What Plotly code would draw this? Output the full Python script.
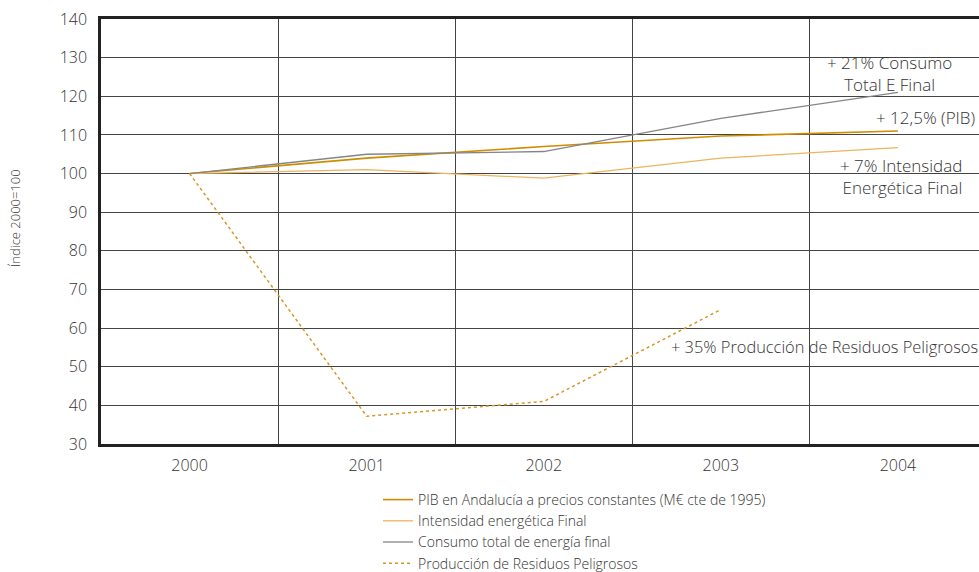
import plotly.graph_objects as go

# Data (index 2000 = 100)
years = ["2000", "2001", "2002", "2003", "2004"]
pib = [100, 104, 107, 109.7, 111]
intensidad = [100, 101, 98.8, 104, 106.7]
consumo = [100, 105, 105.7, 114.3, 121]
residuos_years = ["2000", "2001", "2002", "2003"]
residuos = [100, 37.2, 41, 64.8]

y_ticks = [30, 40, 50, 60, 70, 80, 90, 100, 110, 120, 130, 140]

FONT = "Open Sans"
TXT = "#333333"

# pixel -> paper helpers (plot area: x 101..979, y 19..444)
def px(x):
    return (x - 101) / 878

def py(y):
    return (444 - y) / 425

xi = list(range(len(years)))
xr = list(range(len(residuos_years)))

fig = go.Figure()

fig.add_trace(go.Scatter(
    x=xi, y=pib, mode="lines", name="PIB en Andalucía a precios constantes (M€ cte de 1995)",
    line=dict(color="#D18B00", width=1.6)
))
fig.add_trace(go.Scatter(
    x=xi, y=intensidad, mode="lines", name="Intensidad energética Final",
    line=dict(color="#EBB45E", width=1.3)
))
fig.add_trace(go.Scatter(
    x=xi, y=consumo, mode="lines", name="Consumo total de energía final",
    line=dict(color="#858585", width=1.3)
))
fig.add_trace(go.Scatter(
    x=xr, y=residuos, mode="lines", name="Producción de Residuos Peligrosos",
    line=dict(color="#D9952A", width=1.5, dash="dot")
))

# Text labels next to the series
labels = [
    ("+ 21% Consumo<br>Total E Final", 889, 73, "center", "center", 17),
    ("+ 12,5% (PIB)", 874, 117, "left", "left", 17),
    ("+ 7% Intensidad<br>Energética Final", 964, 176, "right", "right", 17),
    ("+ 35% Producción de Residuos Peligrosos", 669, 346, "left", "left", 16.4),
]
for text, x, y, anchor, align, size in labels:
    fig.add_annotation(
        text=text, x=px(x), y=py(y), xref="paper", yref="paper",
        xanchor=anchor, yanchor="middle", align=align, showarrow=False,
        font=dict(family=FONT, size=size, color=TXT, weight=300)
    )

# Y axis title
fig.add_annotation(
    text="Índice 2000=100", x=px(15), y=py(218), xref="paper", yref="paper",
    xanchor="center", yanchor="middle", textangle=-90, showarrow=False,
    font=dict(family=FONT, size=13, color=TXT, weight=300)
)

fig.update_layout(
    width=979,
    height=572,
    margin=dict(l=101, r=0, t=19, b=128, autoexpand=False),
    plot_bgcolor="white",
    paper_bgcolor="white",
    font=dict(family=FONT, size=14, color=TXT, weight=300),
    showlegend=True,
    legend=dict(
        x=px(378), y=py(579), xanchor="left", yanchor="bottom",
        bgcolor="rgba(0,0,0,0)", font=dict(size=14, color=TXT, weight=300),
        tracegroupgap=0
    ),
    xaxis=dict(
        range=[-0.5, (979 - 190) / 177],
        tickvals=xi, ticktext=years,
        showgrid=False, zeroline=False, automargin=False,
        showline=True, linecolor="#222222", linewidth=2.5, mirror=True,
        ticks="", ticklabelstandoff=5,
        tickfont=dict(size=16, color=TXT, weight=300),
        minor=dict(tickvals=[0.5, 1.5, 2.5, 3.5], showgrid=True,
                   gridcolor="#444444", gridwidth=1, ticks=""),
    ),
    yaxis=dict(
        range=[30, 140],
        tickvals=y_ticks,
        showgrid=True, gridcolor="#444444", gridwidth=1,
        zeroline=False, automargin=False,
        showline=True, linecolor="#222222", linewidth=2.5,
        ticks="", ticklabelstandoff=8, ticklabeloverflow="allow",
        tickfont=dict(size=16, color=TXT, weight=300),
    ),
)

# remove the default page margin so the figure fills the window
fig.write_html(
    "out.html",
    config={"displayModeBar": False},
    post_script="document.body.style.margin='0';document.body.style.overflow='hidden';"
)
